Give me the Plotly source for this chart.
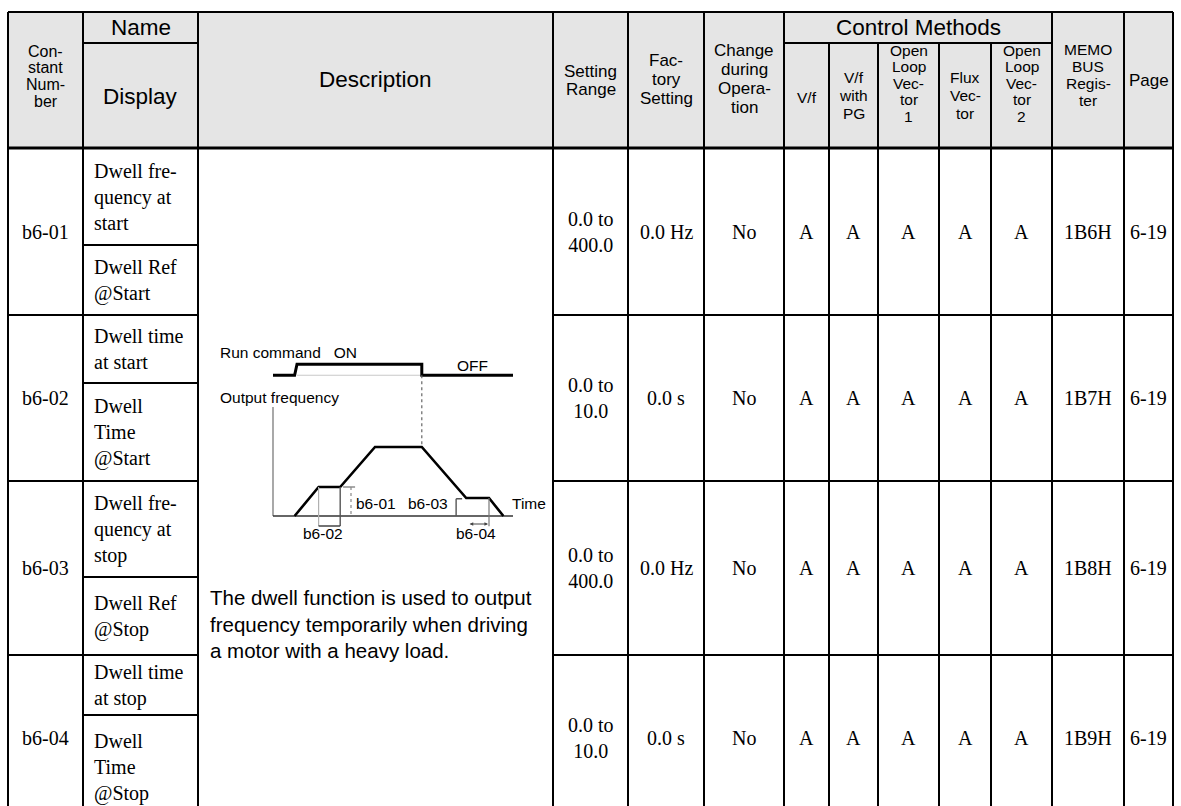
import plotly.graph_objects as go

W, H = 1181, 806

# ---------------- table data ----------------
constant_numbers = ["b6-01", "b6-02", "b6-03", "b6-04"]
names = ["Dwell fre-<br>quency at<br>start", "Dwell time<br>at start",
         "Dwell fre-<br>quency at<br>stop", "Dwell time<br>at stop"]
displays = ["Dwell Ref<br>@Start", "Dwell<br>Time<br>@Start",
            "Dwell Ref<br>@Stop", "Dwell<br>Time<br>@Stop"]
setting_ranges = ["0.0 to<br>400.0", "0.0 to<br>10.0", "0.0 to<br>400.0", "0.0 to<br>10.0"]
factory_settings = ["0.0 Hz", "0.0 s", "0.0 Hz", "0.0 s"]
change_during_operation = ["No", "No", "No", "No"]
method_access = [["A", "A", "A", "A", "A"],
                 ["A", "A", "A", "A", "A"],
                 ["A", "A", "A", "A", "A"],
                 ["A", "A", "A", "A", "A"]]
memobus_registers = ["1B6H", "1B7H", "1B8H", "1B9H"]
pages = ["6-19", "6-19", "6-19", "6-19"]

description_text = ["The dwell function is used to output",
                    "frequency temporarily when driving",
                    "a motor with a heavy load."]

# header labels
hdr_constant = ["Con-", "stant", "Num-", "ber"]
hdr_setting_range = ["Setting", "Range"]
hdr_factory = ["Fac-", "tory", "Setting"]
hdr_change = ["Change", "during", "Opera-", "tion"]
hdr_methods = [["V/f"], ["V/f", "with", "PG"], ["Open", "Loop", "Vec-", "tor", "1"],
               ["Flux", "Vec-", "tor"], ["Open", "Loop", "Vec-", "tor", "2"]]
hdr_memobus = ["MEMO", "BUS", "Regis-", "ter"]
hdr_page = ["Page"]

# ---------------- dwell diagram data (time / frequency units) ----------------
freq_t = [9, 19, 28, 42.5, 62, 80.5, 90, 96]
freq_f = [0, 42, 42, 100, 100, 26, 26, 0]
run_t = [0, 9, 10, 62, 62, 100]
run_level = [204, 204, 220, 220, 204, 204]   # OFF / ON levels drawn above the frequency plot
diagram_labels = ["b6-01", "b6-02", "b6-03", "b6-04"]

SANS = "Liberation Sans, Arial, sans-serif"
SERIF = "Liberation Serif, Times New Roman, serif"

# ---------------- layout geometry (pixels) ----------------
cols = [8, 83, 198, 553, 628, 704, 784, 829, 878, 939, 991, 1052, 1124, 1173]
top, split, hdr_bot = 12, 43, 148
rows = [148, 315, 481, 655, 820]
subrows = [245, 383, 577, 715]


def mid(a, b):
    return (a + b) / 2


fig = go.Figure()
shapes = []
annotations = []


def line(x0, y0, x1, y1, w=2, color="black", dash=None, xref="x", yref="y"):
    shapes.append(dict(type="line", x0=x0, y0=y0, x1=x1, y1=y1, xref=xref, yref=yref,
                       line=dict(color=color, width=w, dash=dash)))


def text(x, y, s, size, font=SANS, xanchor="center", align="center", xref="x", yref="y"):
    annotations.append(dict(x=x, y=y, text=s, showarrow=False, xref=xref, yref=yref,
                            xanchor=xanchor, yanchor="middle", align=align,
                            font=dict(family=font, size=size, color="black")))


def stacked(x, y_first, lines, spacing, size):
    for i, s in enumerate(lines):
        text(x, y_first + i * spacing, s, size)


# header background
shapes.append(dict(type="rect", x0=cols[0], y0=top, x1=cols[-1], y1=hdr_bot, xref="x", yref="y",
                   fillcolor="#e5e5e5", line=dict(width=0), layer="below"))

# horizontal rules
line(cols[0], top, cols[-1], top, 2)
line(cols[1], split, cols[2], split, 2)
line(cols[6], split, cols[11], split, 2)
line(cols[0], hdr_bot, cols[-1], hdr_bot, 3)
for y in rows[1:]:
    line(cols[0], y, cols[2], y, 2)
    line(cols[3], y, cols[-1], y, 2)
for y in subrows:
    line(cols[1], y, cols[2], y, 2)

# vertical rules
for i, x in enumerate(cols):
    y0 = split if 7 <= i <= 10 else top
    line(x, y0, x, rows[-1], 2)

# header text
text(mid(cols[1], cols[2]), 27.5, "Name", 22.5)
text(mid(cols[1], cols[2]), 96, "Display", 22.5)
text(mid(cols[2], cols[3]), 79, "Description", 22.5)
text(mid(cols[6], cols[11]), 27, "Control Methods", 22.5)
stacked(mid(cols[0], cols[1]), 51, hdr_constant, 16.8, 16)
stacked(mid(cols[3], cols[4]), 71, hdr_setting_range, 18, 17)
stacked(mid(cols[4], cols[5]), 60, hdr_factory, 19, 17)
stacked(mid(cols[5], cols[6]), 50, hdr_change, 19, 17)
method_first = [97, 77, 50, 77, 50]
method_spacing = [0, 18, 16.5, 18, 16.5]
for j, lines in enumerate(hdr_methods):
    stacked(mid(cols[6 + j], cols[7 + j]), method_first[j], lines, method_spacing[j], 15.5)
stacked(mid(cols[11], cols[12]), 49, hdr_memobus, 17, 15.5)
stacked(mid(cols[12], cols[13]), 80, hdr_page, 0, 17)

# body text
for r in range(4):
    yc = mid(rows[r], rows[r + 1])
    text(mid(cols[0], cols[1]), yc, constant_numbers[r], 20, SERIF)
    text(cols[1] + 9, mid(rows[r], subrows[r]), names[r], 20, SERIF, xanchor="left", align="left")
    text(cols[1] + 9, mid(subrows[r], rows[r + 1]), displays[r], 20, SERIF, xanchor="left", align="left")
    text(mid(cols[3], cols[4]), yc, setting_ranges[r], 20, SERIF)
    text(mid(cols[4], cols[5]), yc, factory_settings[r], 20, SERIF)
    text(mid(cols[5], cols[6]), yc, change_during_operation[r], 20, SERIF)
    for j in range(5):
        text(mid(cols[6 + j], cols[7 + j]), yc, method_access[r][j], 20, SERIF)
    text(mid(cols[11], cols[12]), yc, memobus_registers[r], 20, SERIF)
    text(mid(cols[12], cols[13]), yc, pages[r], 20, SERIF)

text(208, 624, "<br>".join(description_text), 20.5, xanchor="left", align="left")

# ---------------- dwell diagram on its own axes ----------------
# time t -> px = 273 + 2.4 t ; frequency f -> py = 516 - 0.69 f
t_rng = [-10, 110]
f_rng = [-30, 230]
x_dom = [(273 + 2.4 * t_rng[0]) / W, (273 + 2.4 * t_rng[1]) / W]
y_dom = [(H - (516 - 0.69 * f_rng[0])) / H, (H - (516 - 0.69 * f_rng[1])) / H]

# run command: thin grey base under the ON pulse, then the signal
fig.add_trace(go.Scatter(x=[run_t[2], run_t[3]], y=[run_level[0], run_level[0]], mode="lines",
                         line=dict(color="#c8c8c8", width=1), xaxis="x2", yaxis="y2", hoverinfo="skip"))
fig.add_trace(go.Scatter(x=run_t, y=run_level, mode="lines", line=dict(color="black", width=3),
                         xaxis="x2", yaxis="y2", hoverinfo="skip"))
# axes of the sketch
fig.add_trace(go.Scatter(x=[0, 0], y=[158, 0], mode="lines", line=dict(color="#7a7a7a", width=1.3),
                         xaxis="x2", yaxis="y2", hoverinfo="skip"))
fig.add_trace(go.Scatter(x=[0, 100], y=[0, 0], mode="lines", line=dict(color="#333333", width=1.6),
                         xaxis="x2", yaxis="y2", hoverinfo="skip"))
# dotted line from run OFF edge down to the plateau
line(run_t[3], run_level[-1], freq_t[4], freq_f[4], 1.2, "#666666", "dot", "x2", "y2")
# b6-02 bracket
line(freq_t[1], freq_f[1], freq_t[1], -14.5, 1.2, "#b0b0b0", None, "x2", "y2")
line(freq_t[2], freq_f[2], freq_t[2], -14.5, 1.4, "#555555", None, "x2", "y2")
line(freq_t[1], -14.5, freq_t[2], -14.5, 1.4, "#444444", None, "x2", "y2")
# b6-01 marker
line(freq_t[2] + 1.2, freq_f[2], freq_t[2] + 6.2, freq_f[2], 1.2, "#555555", None, "x2", "y2")
line(freq_t[2] + 4.5, freq_f[2], freq_t[2] + 4.5, 0, 1.2, "#888888", "dot", "x2", "y2")
# b6-03 marker
line(76.3, 0, 76.3, freq_f[5] - 1, 1.4, "#555555", None, "x2", "y2")
line(76.3, freq_f[5] - 1, 78.8, freq_f[5] - 1, 1.4, "#555555", None, "x2", "y2")
# b6-04 bracket
line(freq_t[6], freq_f[6], freq_t[6], -15, 1.2, "#777777", None, "x2", "y2")
annotations.append(dict(x=freq_t[6] - 0.4, y=-11.6, ax=81.3, ay=-11.6, xref="x2", yref="y2",
                        axref="x2", ayref="y2", showarrow=True, arrowhead=2, arrowside="end+start",
                        arrowsize=0.6, arrowwidth=1.2, arrowcolor="#444444", text=""))
# frequency waveform
fig.add_trace(go.Scatter(x=freq_t, y=freq_f, mode="lines", line=dict(color="black", width=2.6),
                         xaxis="x2", yaxis="y2", hoverinfo="skip"))

# diagram labels
text(218, 352, "Run command&nbsp;&nbsp; ON", 15.5, xanchor="left")
text(472, 365, "OFF", 15.5)
text(218, 397, "Output frequency", 15.5, xanchor="left")
text(354, 503, diagram_labels[0], 15.5, xanchor="left")
text(323, 533, diagram_labels[1], 15.5)
text(450, 503, diagram_labels[2], 15.5, xanchor="right")
text(476, 533, diagram_labels[3], 15.5)
text(510, 503, "Time", 15.5, xanchor="left")

fig.update_layout(
    width=W, height=H, margin=dict(l=0, r=0, t=0, b=0),
    paper_bgcolor="white", plot_bgcolor="rgba(0,0,0,0)", showlegend=False,
    xaxis=dict(range=[0, W], visible=False, fixedrange=True),
    yaxis=dict(range=[H, 0], visible=False, fixedrange=True),
    xaxis2=dict(range=t_rng, domain=x_dom, visible=False, anchor="y2", fixedrange=True),
    yaxis2=dict(range=f_rng, domain=y_dom, visible=False, anchor="x2", fixedrange=True),
    shapes=shapes, annotations=annotations,
)

fig.write_html("out.html", config={"displayModeBar": False, "staticPlot": True},
               post_script="document.body.style.margin='0';document.body.style.overflow='hidden';")
